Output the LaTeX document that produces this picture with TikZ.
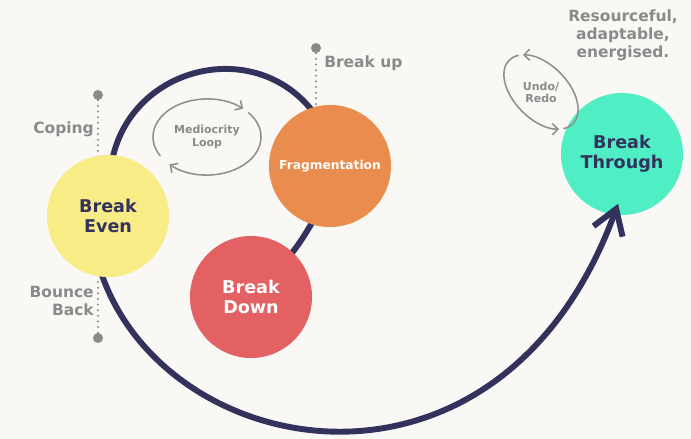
\documentclass[tikz,border=0pt]{standalone}
\usepackage{fontspec}
\setmainfont{DejaVu Sans}
\usetikzlibrary{arrows.meta}
\definecolor{paper}{HTML}{F9F8F5}
\definecolor{navy}{HTML}{33325D}
\definecolor{evenyellow}{HTML}{F8EC86}
\definecolor{fragorange}{HTML}{E98C4D}
\definecolor{downred}{HTML}{E46163}
\definecolor{throughteal}{HTML}{4FEEC4}
\definecolor{labelgrey}{HTML}{8A8A8A}
\definecolor{loopgrey}{HTML}{8F8F8F}
\pgfdeclarelayer{paperlayer}
\pgfdeclarelayer{behind}
\pgfsetlayers{paperlayer,behind,main}
\begin{document}
\begin{tikzpicture}[x=0.025cm, y=0.025cm,
    bubble/.style={circle, minimum size=3.05cm, inner sep=0pt, align=center,
      font=\bfseries\fontsize{12.5}{14.2}\selectfont},
    spiral/.style={draw=navy, line width=4.2pt},
    loopline/.style={draw=loopgrey, line width=1.1pt,
      -{Straight Barb[length=4pt,width=8pt]}},
    looplabel/.style={text=labelgrey, align=center, inner sep=0pt},
    greylabel/.style={text=labelgrey, align=right, inner sep=0pt,
      font=\bfseries\fontsize{11}{12.8}\selectfont},
    guide/.style={draw=labelgrey, line width=1.6pt, line cap=round,
      dash pattern=on 0pt off 4pt},
    pindot/.style={circle, fill=labelgrey, minimum size=0.25cm, inner sep=0pt}]
    \useasboundingbox (0,0) rectangle (691,-439);
    \begin{pgfonlayer}{paperlayer}
        \fill[paper] (0,0) rectangle (691,-439);
    \end{pgfonlayer}
    \node[bubble, fill=evenyellow, text=navy] (even) at (108,-216) {Break\\Even};
    \node[bubble, fill=fragorange, text=white,
      font=\bfseries\fontsize{8.7}{10}\selectfont] (frag) at (330,-166) {Fragmentation};
    \node[bubble, fill=downred, text=white] (down) at (251,-297) {Break\\Down};
    \begin{pgfonlayer}{behind}
        \node[bubble, fill=throughteal, text=navy] (through) at (622,-154) {Break\\Through};
        \draw[spiral, -{Straight Barb[length=17pt,width=22pt]}]
            (down.center) to[out=45, in=240] (frag.252)
            to[out=60, in=310] (frag.109)
            to[out=130, in=76, looseness=1.15] (even.85)
            to[out=256, in=110] (even.265)
            .. controls +(290:200) and +(250:340) .. ([xshift=1pt, yshift=8pt]through.265);
    \end{pgfonlayer}
    \node[looplabel, font=\bfseries\fontsize{7.8}{9.4}\selectfont] (mloop) at (207,-137) {Mediocrity\\Loop};
    \draw[loopline] (mloop.center) ++(210:54 and 38) arc[start angle=210, end angle=48, x radius=54, y radius=38];
    \draw[loopline] (mloop.center) ++(40:54 and 38) arc[start angle=40, end angle=-134, x radius=54, y radius=38];
    \node[looplabel, font=\bfseries\fontsize{7.8}{8.5}\selectfont] (uloop) at (541,-92) {Undo/\\Redo};
    \draw[loopline, rotate=-45] (uloop.center) ++(-22:45 and 27) arc[start angle=-22, end angle=150, x radius=45, y radius=27];
    \draw[loopline, rotate=-45] (uloop.center) ++(158:45 and 27) arc[start angle=158, end angle=330, x radius=45, y radius=27];
    \node[pindot] (copingdot) at (98,-95) {};
    \node[pindot] (bouncedot) at (98,-338) {};
    \node[pindot] (updot) at (316,-48) {};
    \draw[guide] (copingdot) -- (copingdot |- even.north);
    \draw[guide] (bouncedot) -- (bouncedot |- even.south);
    \draw[guide] (updot) -- (updot |- frag.north);
    \node[greylabel, anchor=east] (coping) at (94,-129) {Coping};
    \node[greylabel, anchor=east] (bounce) at (94,-301) {Bounce\\Back};
    \node[greylabel, anchor=west] (breakup) at (324,-63) {Break up};
    \node[greylabel, align=center] (traits) at (623,-35) {Resourceful,\\adaptable,\\energised.};
\end{tikzpicture}
\end{document}
